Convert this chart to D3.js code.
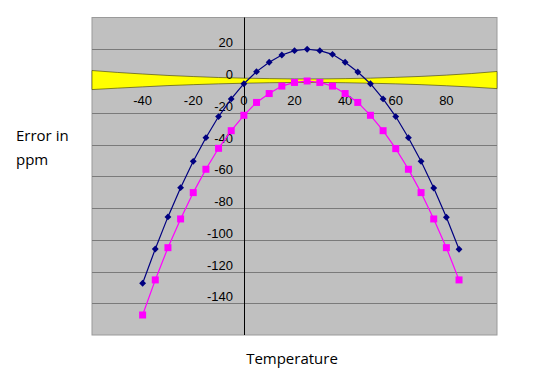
<!DOCTYPE html>
<html>
<head>
<meta charset="utf-8">
<script src="https://cdn.jsdelivr.net/npm/d3@7"></script>
<style>
  html, body { margin: 0; padding: 0; background: #ffffff; }
  svg { display: block; }
</style>
</head>
<body>
<svg id="chart" width="541" height="373"></svg>
<script>
// ---- data ----
const temps = [-40,-35,-30,-25,-20,-15,-10,-5,0,5,10,15,20,25,30,35,40,45,50,55,60,65,70,75,80,85];
const seriesBlue = [-127.4,-105.8,-85.6,-67.2,-50.6,-35.7,-22.4,-11.3,-1.7,5.9,11.8,16.4,19.1,20.0,19.1,16.8,11.8,5.7,-1.7,-11.3,-22.4,-35.7,-50.6,-67.4,-85.8,-106.0];
const seriesPink = [-147.4,-125.3,-105.0,-86.9,-70.3,-55.6,-42.4,-31.3,-21.6,-13.5,-7.9,-3.2,-0.9,0.0,-0.9,-3.2,-7.9,-13.5,-21.6,-31.3,-42.6,-55.6,-70.3,-86.9,-105.0,-125.3];
const bandTemps = [-60,-50,-40,-30,-20,-10,0,10,20,30,40,50,60,70,80,90,100];
const bandUpper = [6.6,5.4,4.4,3.5,2.8,2.2,1.8,1.5,1.3,1.3,1.5,1.8,2.3,2.9,3.7,4.7,6.0];
const bandLower = [-5.4,-4.5,-3.7,-2.9,-2.3,-1.8,-1.4,-1.1,-0.9,-0.9,-1.1,-1.4,-1.8,-2.3,-3.0,-3.8,-4.8];
const yTicks = [20,0,-20,-40,-60,-80,-100,-120,-140];
const xTickLabels = [-40,-20,0,20,40,60,80];
const yGrid = [40,20,0,-20,-40,-60,-80,-100,-120,-140,-160];

// ---- layout ----
const svg = d3.select("#chart");
const x = d3.scaleLinear().domain([-60,100]).range([92,497]);
const y = d3.scaleLinear().domain([-160,40]).range([335,17.5]);

// plot area
svg.append("rect")
  .attr("x", x(-60)).attr("y", y(40))
  .attr("width", x(100)-x(-60)).attr("height", y(-160)-y(40))
  .attr("fill", "#c0c0c0").attr("stroke", "#9a9a9a").attr("stroke-width", 1);

// gridlines
svg.append("g").selectAll("line").data(yGrid.filter(v => v !== 0 && v !== 40 && v !== -160)).join("line")
  .attr("x1", x(-60)).attr("x2", x(100))
  .attr("y1", d => Math.round(y(d))+0.5).attr("y2", d => Math.round(y(d))+0.5)
  .attr("stroke", "#7a7a7a").attr("stroke-width", 1);

// axes lines
svg.append("line")
  .attr("x1", x(-60)).attr("x2", x(100))
  .attr("y1", Math.round(y(0))+0.5).attr("y2", Math.round(y(0))+0.5)
  .attr("stroke", "#000").attr("stroke-width", 1);
svg.append("line")
  .attr("x1", Math.round(x(0))+0.5).attr("x2", Math.round(x(0))+0.5)
  .attr("y1", y(40)).attr("y2", y(-160))
  .attr("stroke", "#000").attr("stroke-width", 1);

// tolerance band
const bandData = bandTemps.map((t,i) => ({t, u: bandUpper[i], l: bandLower[i]}));
svg.append("path")
  .datum(bandData)
  .attr("d", d3.area().x(d => x(d.t)).y0(d => y(d.l)).y1(d => y(d.u)).curve(d3.curveMonotoneX))
  .attr("fill", "#ffff00").attr("stroke", "#3a3a00").attr("stroke-width", 0.6);

// tick labels
const fontFam = "'Liberation Sans', Arial, sans-serif";
svg.append("g").selectAll("text").data(yTicks).join("text")
  .attr("x", 233).attr("y", d => y(d) - 6.5)
  .attr("dy", "0.35em")
  .attr("text-anchor", "end")
  .attr("font-family", fontFam).attr("font-size", 13).attr("fill", "#000")
  .text(d => d);
svg.append("g").selectAll("text").data(xTickLabels).join("text")
  .attr("x", d => x(d)).attr("y", y(0) + 19)
  .attr("dy", "0.35em")
  .attr("text-anchor", "middle")
  .attr("font-family", fontFam).attr("font-size", 13).attr("fill", "#000")
  .text(d => d);

// series lines
const line = d3.line().x(d => x(d[0])).y(d => y(d[1]));
const blueData = temps.map((t,i) => [t, seriesBlue[i]]);
const pinkData = temps.map((t,i) => [t, seriesPink[i]]);
svg.append("path").datum(pinkData).attr("d", line)
  .attr("fill", "none").attr("stroke", "#ff00ff").attr("stroke-width", 1.2);
svg.append("path").datum(blueData).attr("d", line)
  .attr("fill", "none").attr("stroke", "#000080").attr("stroke-width", 1.2);

// markers
svg.append("g").selectAll("rect").data(pinkData).join("rect")
  .attr("x", d => x(d[0]) - 3.5).attr("y", d => y(d[1]) - 3.5)
  .attr("width", 7).attr("height", 7)
  .attr("fill", "#ff00ff");
const diamond = d3.symbol().type(d3.symbolDiamond2).size(30);
svg.append("g").selectAll("path").data(blueData).join("path")
  .attr("transform", d => `translate(${x(d[0])},${y(d[1])})`)
  .attr("d", diamond)
  .attr("fill", "#000080");

// axis titles
const titleFam = "'Open Sans', 'Noto Sans', sans-serif";
svg.append("text").attr("x", 16).attr("y", 141)
  .attr("font-family", titleFam).attr("font-size", 15).attr("fill", "#000")
  .text("Error in");
svg.append("text").attr("x", 16).attr("y", 165)
  .attr("font-family", titleFam).attr("font-size", 15).attr("fill", "#000")
  .text("ppm");
svg.append("text").attr("x", 292).attr("y", 364)
  .attr("text-anchor", "middle")
  .attr("font-family", titleFam).attr("font-size", 15).attr("fill", "#000")
  .text("Temperature");
</script>
</body>
</html>
